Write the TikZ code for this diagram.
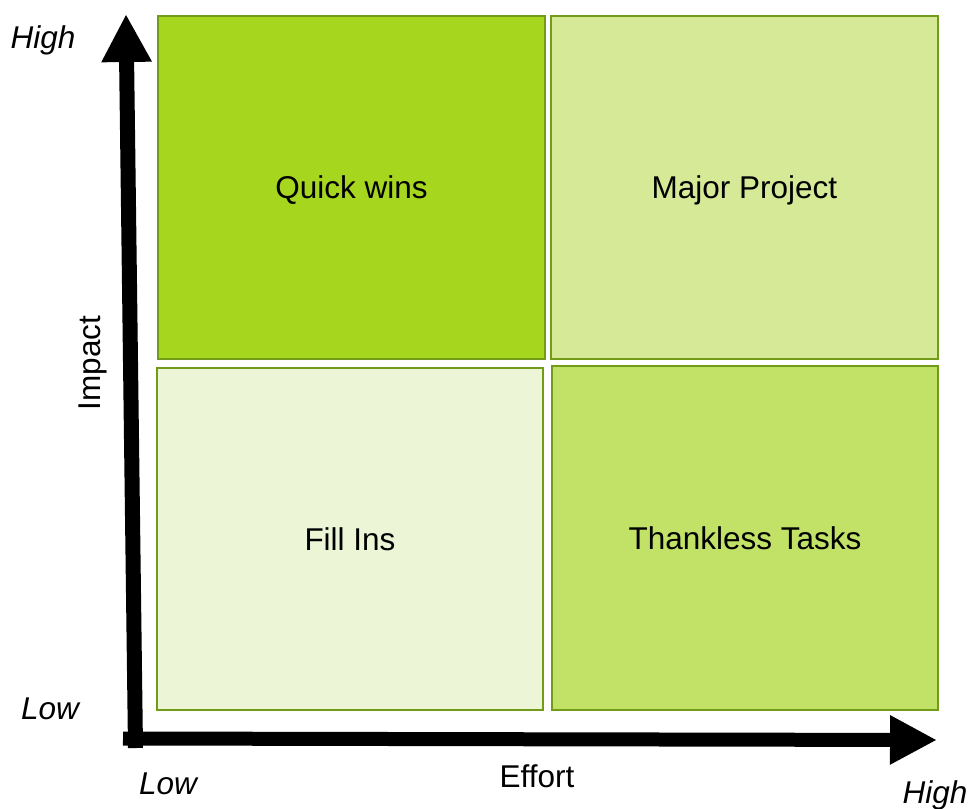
\documentclass[tikz,border=0pt]{standalone}
\usepackage{fontspec}
\setmainfont{Liberation Sans}
\usetikzlibrary{arrows.meta}
\definecolor{qwcol}{RGB}{166,214,30}
\definecolor{mpcol}{RGB}{213,233,150}
\definecolor{ficol}{RGB}{236,245,214}
\definecolor{ttcol}{RGB}{193,226,102}
\definecolor{edgecol}{RGB}{114,156,24}
\begin{document}
\begin{tikzpicture}[x=1pt,y=-1pt,
  font=\fontsize{31.5}{37}\selectfont,
  quad/.style={draw=edgecol, line width=2pt, inner sep=0pt, text=black, text height=22.5pt, text depth=0pt},
  axislabel/.style={font=\fontsize{31.5}{37}\selectfont\itshape, inner sep=0pt},
  axisline/.style={line width=15pt, line cap=butt, draw=black}]
\useasboundingbox (0,0) rectangle (968,808);
% quadrants
\node[quad, fill=qwcol, minimum width=387pt, minimum height=343pt] (qw) at (351.5,187.5) {Quick wins};
\node[quad, fill=mpcol, minimum width=387pt, minimum height=343pt] (mp) at (744.5,187.5) {Major Project};
\node[quad, fill=ficol, minimum width=386pt, minimum height=342pt] (fi) at (350,539) {Fill Ins};
\node[quad, fill=ttcol, minimum width=386pt, minimum height=344pt] (tt) at (745,538) {Thankless Tasks};
% axes
\coordinate (vbot) at (135.5,748);
\coordinate (vtip) at (126,14);
\coordinate (hleft) at (123,738.5);
\coordinate (htip) at (937,740);
\draw[axisline, -{Triangle[length=48pt,width=47pt]}] (vbot) -- (vtip);
\draw[axisline, line width=14pt, -{Triangle[length=47pt,width=46pt]}] (hleft) -- (htip);
% labels
\node[axislabel] (yhigh) at (43,40) {High};
\node[axislabel] (ylow) at (50,709) {Low};
\node[axislabel] (xlow) at (168,784) {Low};
\node[axislabel] (xhigh) at (935,795) {High};
\node[inner sep=0pt] (effort) at (537,776) {Effort};
\node[inner sep=0pt, rotate=90] (impact) at (93,363) {Impact};
\end{tikzpicture}
\end{document}
